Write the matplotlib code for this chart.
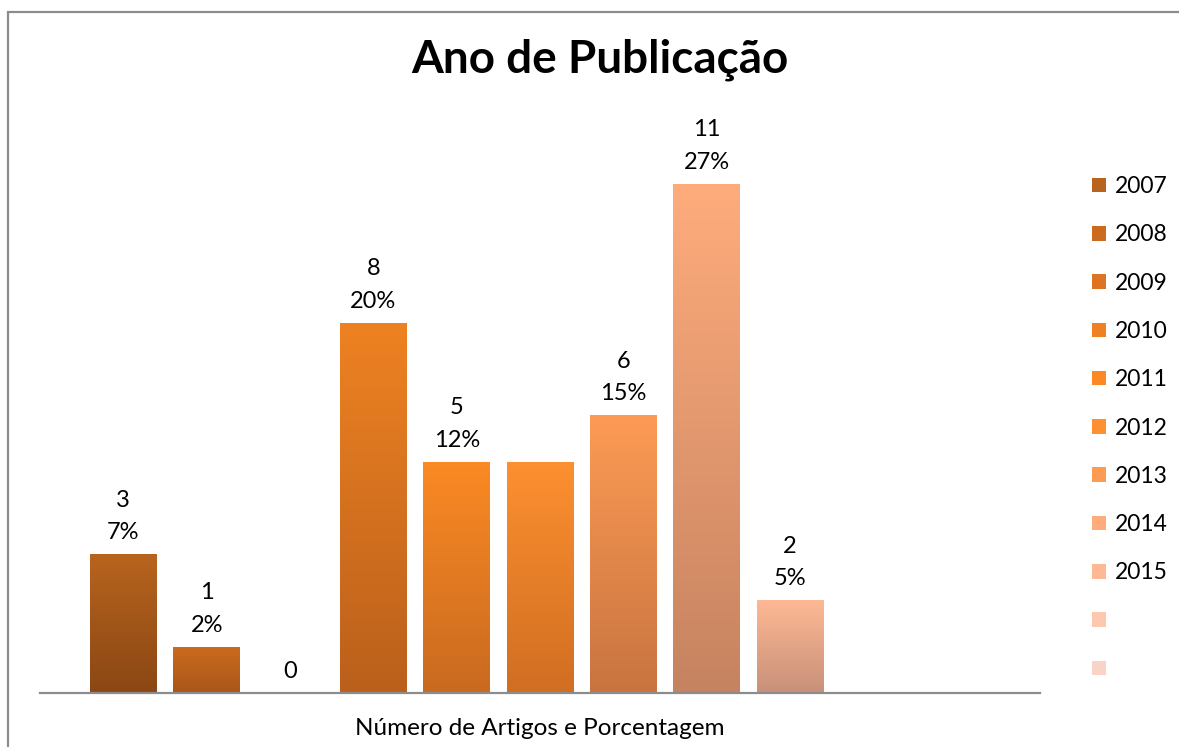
import matplotlib; matplotlib.use('Agg')
import matplotlib.pyplot as plt
import numpy as np
from matplotlib.colors import to_rgb
from matplotlib.patches import Rectangle, Patch

plt.rcParams['font.family'] = ['Lato', 'DejaVu Sans']

# dados
anos = ['2007', '2008', '2009', '2010', '2011', '2012', '2013', '2014', '2015', '', '']
artigos = [3, 1, 0, 8, 5, 5, 6, 11, 2, 0, 0]
rotulos = ['3\n7%', '1\n2%', '0', '8\n20%', '5\n12%', '', '6\n15%', '11\n27%', '2\n5%', '', '']
# gradiente (topo, base) de cada série
cor_topo = ['#B8641E', '#CC6B1E', '#DC7424', '#EE8222', '#FB8A24', '#FD9030',
            '#FD9B55', '#FEAC7C', '#FEB994', '#FCC8B0', '#F9D4C6']
cor_base = ['#8A4714', '#A8561A', '#B05A1C', '#BA601C', '#C86A20', '#D06E22',
            '#C87440', '#C68360', '#C8907A', '#C9A090', '#C8B0A8']

W, H = 1179, 747
fig = plt.figure(figsize=(W/100, H/100), dpi=100)
fig.patches.append(Rectangle((8/W, -0.1), 1.2, (H-12)/H + 0.1, transform=fig.transFigure,
                             facecolor='none', edgecolor='#8C8C8C', lw=1.6))

ax = fig.add_axes([40/W, 54/H, 1000/W, 583/H])
ax.set_facecolor('none')
xs = np.arange(len(anos))
for i, (a, v) in enumerate(zip(anos, artigos)):
    b = ax.bar(xs[i], v, width=0.8, color=cor_topo[i], label=a, zorder=2)
    r = b.patches[0]
    r.set_facecolor('none'); r.set_edgecolor('none')
    if v > 0:
        grad = np.linspace(0, 1, 256)[:, None, None]
        img = (1-grad)*np.array(to_rgb(cor_topo[i])) + grad*np.array(to_rgb(cor_base[i]))
        im = ax.imshow(img, extent=[r.get_x(), r.get_x()+r.get_width(), 0, v],
                       aspect='auto', zorder=2, origin='upper')
        im.set_clip_path(r)
    if rotulos[i]:
        ax.annotate(rotulos[i], (xs[i], v), xytext=(0, 8), textcoords='offset points',
                    ha='center', va='bottom', fontsize=17, linespacing=1.68)

ax.set_xlim(-1, 11)
ax.set_ylim(0, 12.6)
for s in ['top', 'right', 'left']:
    ax.spines[s].set_visible(False)
ax.spines['bottom'].set_color('#8C8C8C')
ax.spines['bottom'].set_linewidth(1.6)
ax.set_xticks([]); ax.set_yticks([])
ax.set_xlabel('Número de Artigos e Porcentagem', fontsize=17.5, labelpad=18)

fig.text(600/W, 1 - 60/H, 'Ano de Publicação', fontsize=33, fontweight='bold',
         ha='center', va='center')

handles = [Patch(facecolor=c, edgecolor='none') for c in cor_topo]
fig.legend(handles, anos, loc='upper left', bbox_to_anchor=(1083/W, 1 - 167/H),
           frameon=False, fontsize=16.5, handlelength=0.6, handleheight=0.6,
           handletextpad=0.4, labelspacing=1.19, borderaxespad=0)

fig.savefig('out.png', dpi=100, facecolor='white')
